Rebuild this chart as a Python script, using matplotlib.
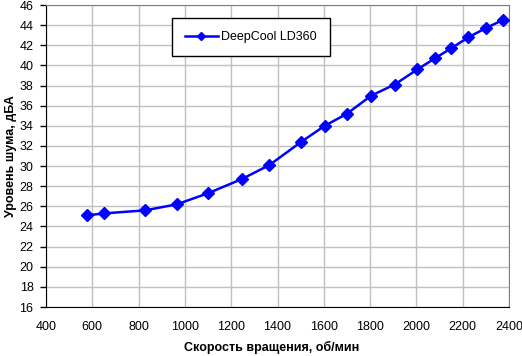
import matplotlib
matplotlib.use("Agg")
import matplotlib.pyplot as plt

rpm = [576, 652, 828, 965, 1100, 1245, 1365, 1502, 1604, 1700, 1805, 1906, 2004, 2080, 2150, 2225, 2300, 2372]
noise = [25.1, 25.3, 25.6, 26.2, 27.3, 28.7, 30.1, 32.4, 34.0, 35.2, 37.0, 38.1, 39.6, 40.7, 41.7, 42.8, 43.7, 44.5]
series_name = "DeepCool LD360"
xlabel = "Скорость вращения, об/мин"
ylabel = "Уровень шума, дБА"
xticks = list(range(400, 2401, 200))
yticks = list(range(16, 47, 2))

plt.rcParams['font.family'] = ['Liberation Sans', 'DejaVu Sans']

W, H = 522, 356
fig = plt.figure(figsize=(W/100, H/100), dpi=100)
ax = fig.add_axes([46/W, 1-307/H, (509-46)/W, (307-5)/H])

ax.plot(rpm, noise, color='#0000FF', lw=1.8, marker='D', ms=6, mec='#0000FF', mfc='#0000FF', label=series_name, zorder=3)

ax.set_xlim(400, 2400)
ax.set_ylim(16, 46)
ax.set_xticks(xticks)
ax.set_yticks(yticks)
ax.grid(True, color='#c0c0c0', lw=1)
ax.set_axisbelow(True)
for s in ['top', 'right']:
    ax.spines[s].set_color('#808080')
for s in ['left', 'bottom']:
    ax.spines[s].set_color('black')
ax.tick_params(axis='y', direction='out', length=4, width=1, labelsize=9, colors='black', pad=5)
ax.tick_params(axis='x', direction='out', length=0, labelsize=9, colors='black', pad=10)

fig.text(272/W, 1-347/H, xlabel, fontsize=9, fontweight='bold', ha='center', va='center')
fig.text(11/W, 1-156/H, ylabel, fontsize=9, fontweight='bold', ha='center', va='center', rotation=90)

leg = ax.legend(loc='upper left', bbox_to_anchor=((172-46)/463, 1-(18-5)/302), frameon=True, fancybox=False,
                edgecolor='black', framealpha=1, fontsize=9, borderpad=1.05, handlelength=2.6,
                handletextpad=0.3, borderaxespad=0, markerscale=0.75)
leg.get_frame().set_linewidth(1)

fig.savefig("out.png", dpi=100)
